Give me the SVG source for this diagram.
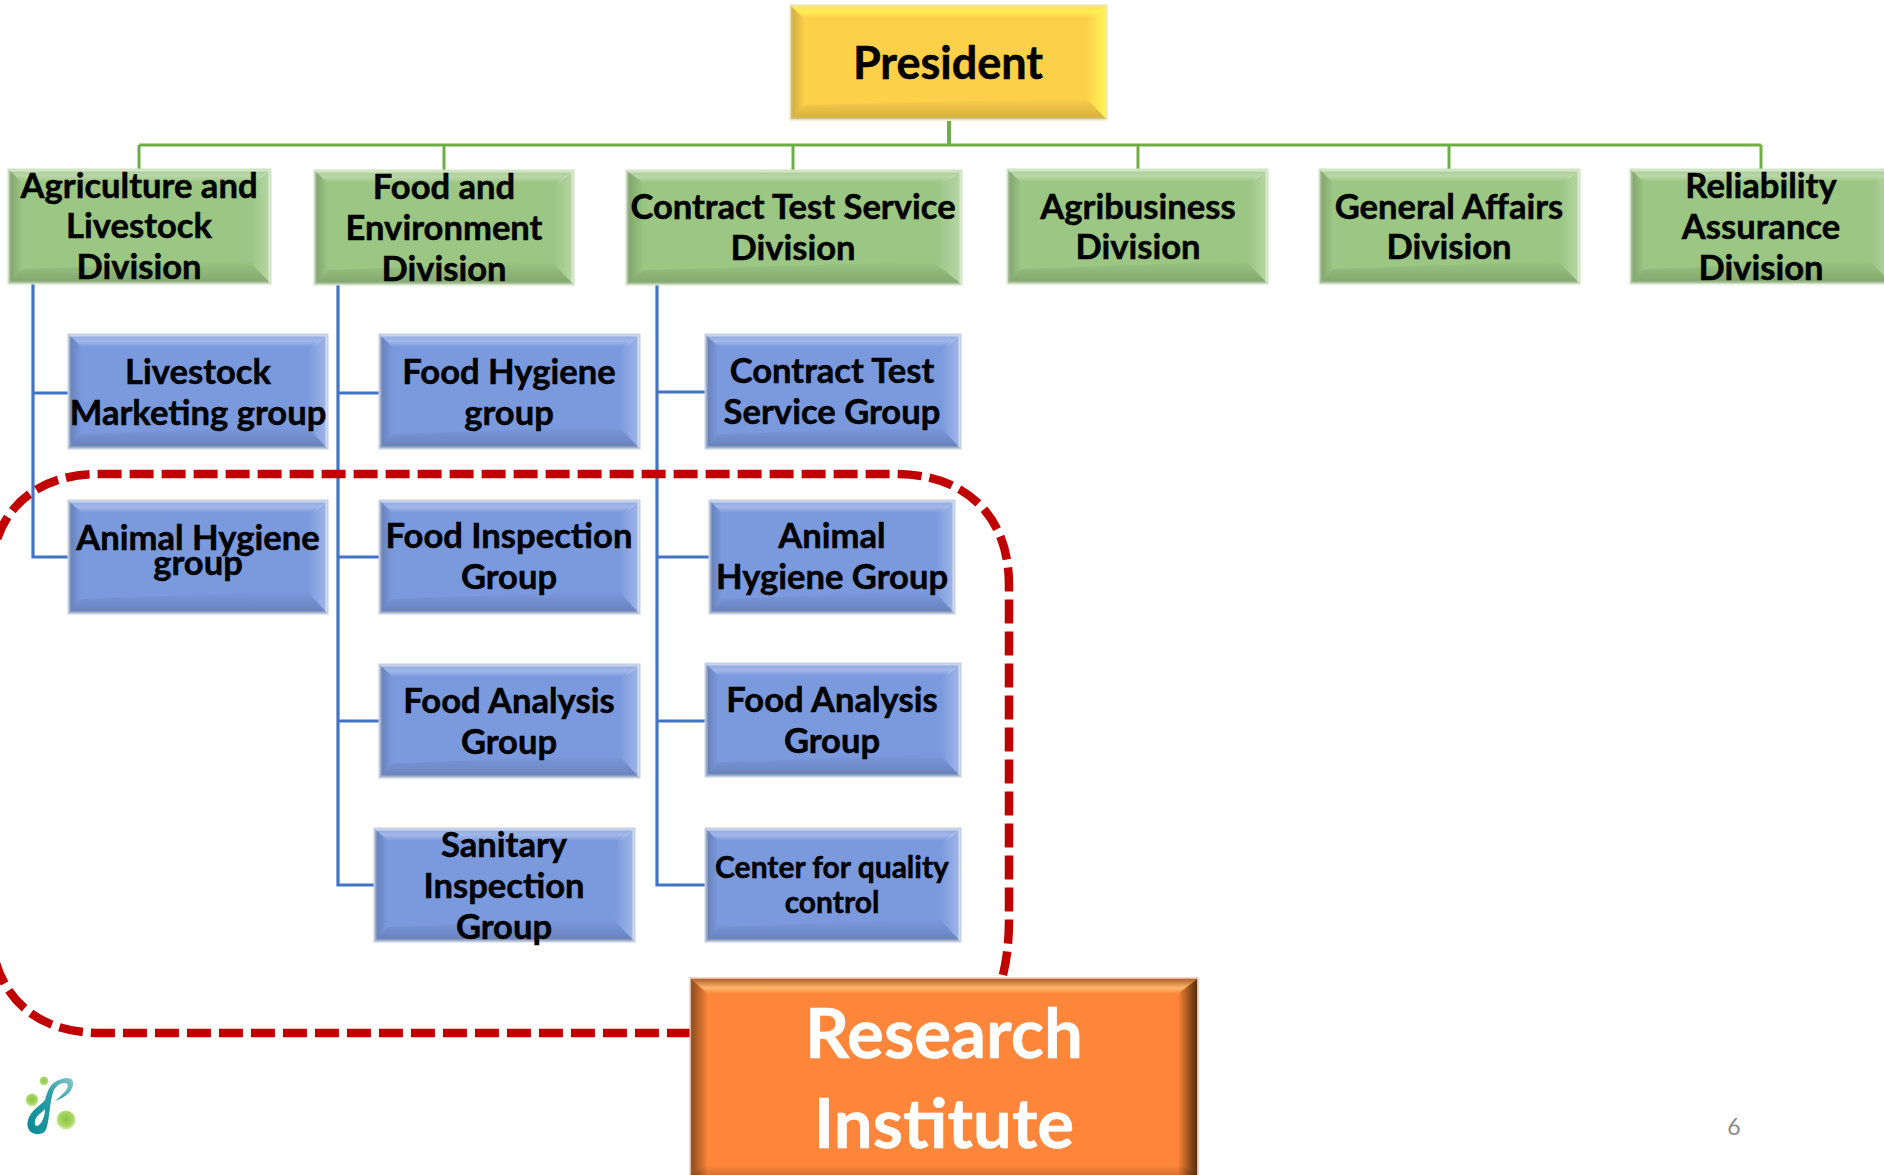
<svg xmlns="http://www.w3.org/2000/svg" xmlns:xlink="http://www.w3.org/1999/xlink" width="1884" height="1175" viewBox="0 0 1884 1175">
<style>
text{font-family:Lato,"Liberation Sans",sans-serif;font-weight:700;text-anchor:middle;fill:#000;stroke:#000;stroke-width:.5px;font-size:34.6px;transform:translateY(1px)}
.g{fill:#9bc683;stroke:#cfe3c2}
.b{fill:#7b9ade;stroke:#c3cfe6}
.y{fill:#fdd04a;stroke:#eee4a8}
.o{fill:#fe863a;stroke:#e8b49a}
.base{stroke-width:3;vector-effect:non-scaling-stroke}
.cg{stroke:#70ad47;fill:none;stroke-width:3}
.cb{stroke:#4472c4;fill:none;stroke-width:3.2}
.dash{fill:none;stroke:#c00000;stroke-width:8.5;stroke-dasharray:24 8}
.big{font-size:69px;fill:#fff;stroke:#fff}
.sm{font-size:30px}
</style>
<defs>
<linearGradient id="wT" x1="0" y1="0" x2="0" y2="1"><stop offset="0" stop-color="#fff" stop-opacity=".12"/><stop offset=".5" stop-color="#fff" stop-opacity=".3"/><stop offset="1" stop-color="#fff" stop-opacity="0"/></linearGradient>
<linearGradient id="kL" x1="0" y1="0" x2="1" y2="0"><stop offset="0" stop-color="#000" stop-opacity=".18"/><stop offset="1" stop-color="#000" stop-opacity="0"/></linearGradient>
<linearGradient id="wR" x1="1" y1="0" x2="0" y2="0"><stop offset="0" stop-color="#fff" stop-opacity=".28"/><stop offset="1" stop-color="#fff" stop-opacity="0"/></linearGradient>
<linearGradient id="kB" x1="0" y1="1" x2="0" y2="0"><stop offset="0" stop-color="#000" stop-opacity=".16"/><stop offset="1" stop-color="#000" stop-opacity="0"/></linearGradient>
<linearGradient id="yT" x1="0" y1="0" x2="0" y2="1"><stop offset="0" stop-color="#ffee55" stop-opacity=".5"/><stop offset=".5" stop-color="#ffee55" stop-opacity="1"/><stop offset="1" stop-color="#ffee55" stop-opacity="0"/></linearGradient>
<linearGradient id="yR" x1="1" y1="0" x2="0" y2="0"><stop offset="0" stop-color="#fff455"/><stop offset="1" stop-color="#fff455" stop-opacity="0"/></linearGradient>
<linearGradient id="dL" x1="0" y1="0" x2="1" y2="0"><stop offset="0" stop-color="#5a3010" stop-opacity=".7"/><stop offset="1" stop-color="#5a3010" stop-opacity="0"/></linearGradient>
<linearGradient id="dR" x1="1" y1="0" x2="0" y2="0"><stop offset="0" stop-color="#4a2808" stop-opacity=".95"/><stop offset="1" stop-color="#4a2808" stop-opacity="0"/></linearGradient>
<linearGradient id="oT" x1="0" y1="0" x2="0" y2="1"><stop offset="0" stop-color="#a85a20" stop-opacity=".9"/><stop offset=".6" stop-color="#ffc27a" stop-opacity=".8"/><stop offset="1" stop-color="#ffc27a" stop-opacity="0"/></linearGradient>
<linearGradient id="rib" x1="0" y1="1" x2="1" y2="0"><stop offset="0" stop-color="#048a98"/><stop offset=".6" stop-color="#2f9ea6"/><stop offset="1" stop-color="#88c8c8"/></linearGradient>
<radialGradient id="ball" cx=".5" cy=".45" r=".55"><stop offset="0" stop-color="#8cc63f"/><stop offset=".7" stop-color="#a8d868"/><stop offset="1" stop-color="#dcf0b4"/></radialGradient>
<symbol id="bevel" viewBox="0 0 260 115" preserveAspectRatio="none">
<polygon points="0,0 260,0 247,12 13,12" fill="url(#wT)"/>
<polygon points="0,0 13,13 13,101 0,115" fill="url(#kL)"/>
<polygon points="260,0 241,14 241,94 260,115" fill="url(#wR)"/>
<polygon points="0,115 13,101 238,92 260,115" fill="url(#kB)"/>
</symbol>
<symbol id="bevelY" viewBox="0 0 315 113" preserveAspectRatio="none">
<polygon points="0,0 315,0 302,12 13,12" fill="url(#yT)"/>
<polygon points="0,0 14,14 14,99 0,113" fill="url(#kL)"/>
<polygon points="315,0 295,14 295,92 315,113" fill="url(#yR)"/>
<polygon points="0,113 14,99 295,92 315,113" fill="url(#kB)"/>
</symbol>
<symbol id="bevelO" viewBox="0 0 474 197" preserveAspectRatio="none">
<polygon points="0,0 474,0 456,15 16,15" fill="url(#oT)"/>
<polygon points="0,0 16,15 16,197 0,197" fill="url(#dL)"/>
<polygon points="474,0 456,15 456,197 474,197" fill="url(#dR)"/>
<polygon points="0,197 14,186 460,186 474,197" fill="url(#kB)"/>
</symbol>
</defs>
<rect width="1884" height="1175" fill="#fff"/>
<g id="connectors">
<path class="cg" d="M139 145H1761M139 145V169M444 145V170M793 145V170M1138 145V169M1449 145V169M1761 145V169"/>
<path class="cg" style="stroke-width:4" d="M949 121V145"/>
<path class="cb" d="M33 284V557H68M33 393H68"/>
<path class="cb" d="M338 285V885H374M338 393H379M338 557H379M338 721H379"/>
<path class="cb" d="M657 285V885H705M657 392H705M657 557H709M657 721H705"/>
</g>
<path id="boundary" class="dash" d="M1003 975Q1009 950 1009 920V585C1009 515 965 474 895 474H100C30 474 -10 515 -10 585V920C-10 990 30 1033 100 1033H690"/>
<g id="president"><rect class="base y" x="791" y="6" width="315" height="113"/><use href="#bevelY" x="791" y="6" width="315" height="113"/><text x="948" y="78" style="font-size:45px">President</text></g>
<g id="agri"><rect class="base g" x="9" y="170" width="261" height="113"/><use href="#bevel" x="9" y="170" width="261" height="113"/><text x="139" y="197">Agriculture and</text><text x="139" y="237">Livestock</text><text x="139" y="278">Division</text></g>
<g id="food-env"><rect class="base g" x="315" y="171" width="258" height="113"/><use href="#bevel" x="315" y="171" width="258" height="113"/><text x="444" y="198">Food and</text><text x="444" y="239">Environment</text><text x="444" y="280">Division</text></g>
<g id="contract"><rect class="base g" x="627" y="171" width="334" height="113"/><use href="#bevel" x="627" y="171" width="334" height="113"/><text x="793" y="218">Contract Test Service</text><text x="793" y="259">Division</text></g>
<g id="agribusiness"><rect class="base g" x="1008" y="170" width="259" height="113"/><use href="#bevel" x="1008" y="170" width="259" height="113"/><text x="1138" y="218">Agribusiness</text><text x="1138" y="258">Division</text></g>
<g id="general"><rect class="base g" x="1320" y="170" width="259" height="113"/><use href="#bevel" x="1320" y="170" width="259" height="113"/><text x="1449" y="218">General Affairs</text><text x="1449" y="258">Division</text></g>
<g id="reliability"><rect class="base g" x="1631" y="170" width="260" height="113"/><use href="#bevel" x="1631" y="170" width="260" height="113"/><text x="1761" y="197">Reliability</text><text x="1761" y="238">Assurance</text><text x="1761" y="279">Division</text></g>
<g id="livestock-mkt"><rect class="base b" x="69" y="335" width="258" height="113"/><use href="#bevel" x="69" y="335" width="258" height="113"/><text x="198" y="383">Livestock</text><text x="198" y="424">Marketing group</text></g>
<g id="food-hygiene"><rect class="base b" x="380" y="335" width="259" height="113"/><use href="#bevel" x="380" y="335" width="259" height="113"/><text x="509" y="383">Food Hygiene</text><text x="509" y="424">group</text></g>
<g id="contract-group"><rect class="base b" x="706" y="335" width="254" height="113"/><use href="#bevel" x="706" y="335" width="254" height="113"/><text x="832" y="382">Contract Test</text><text x="832" y="423">Service Group</text></g>
<g id="animal-hygiene-1"><rect class="base b" x="69" y="501" width="258" height="112"/><use href="#bevel" x="69" y="501" width="258" height="112"/><text x="198" y="549">Animal Hygiene</text><text x="198" y="574">group</text></g>
<g id="food-inspection"><rect class="base b" x="380" y="501" width="259" height="112"/><use href="#bevel" x="380" y="501" width="259" height="112"/><text x="509" y="547">Food Inspection</text><text x="509" y="588">Group</text></g>
<g id="animal-hygiene-2"><rect class="base b" x="710" y="501" width="244" height="112"/><use href="#bevel" x="710" y="501" width="244" height="112"/><text x="832" y="547">Animal</text><text x="832" y="588">Hygiene Group</text></g>
<g id="food-analysis-1"><rect class="base b" x="380" y="665" width="259" height="112"/><use href="#bevel" x="380" y="665" width="259" height="112"/><text x="509" y="712">Food Analysis</text><text x="509" y="753">Group</text></g>
<g id="food-analysis-2"><rect class="base b" x="706" y="664" width="254" height="112"/><use href="#bevel" x="706" y="664" width="254" height="112"/><text x="832" y="711">Food Analysis</text><text x="832" y="752">Group</text></g>
<g id="sanitary"><rect class="base b" x="375" y="829" width="259" height="112"/><use href="#bevel" x="375" y="829" width="259" height="112"/><text x="504" y="856">Sanitary</text><text x="504" y="897">Inspection</text><text x="504" y="938">Group</text></g>
<g id="center"><rect class="base b" x="706" y="829" width="254" height="112"/><use href="#bevel" x="706" y="829" width="254" height="112"/><text class="sm" x="832" y="877" style="font-size:30px">Center for quality</text><text class="sm" x="832" y="912" style="font-size:30px">control</text></g>
<g id="research"><rect class="base o" x="691" y="979" width="506" height="198"/><use href="#bevelO" x="691" y="979" width="506" height="197"/><text class="big" x="944" y="1057" style="font-size:69px">Research</text><text class="big" x="944" y="1147" style="font-size:69px">Institute</text></g>
<g id="logo">
<path d="M43 1133C33 1137 25 1130 28 1120C31 1110 40 1106 45 1100C48 1090 50 1082 62 1079C70 1076 76 1080 72 1088C70 1094 63 1098 55 1101C62 1095 68 1090 68 1085C66 1081 58 1083 54 1090C50 1100 50 1112 48 1122C47 1127 46 1131 43 1133ZM41 1113C36 1116 33 1122 36 1126C40 1127 45 1118 45 1109Z" fill="url(#rib)" fill-rule="evenodd"/>
<circle cx="44" cy="1081" r="4.5" fill="url(#ball)"/>
<circle cx="32" cy="1100" r="6.5" fill="url(#ball)"/>
<circle cx="66" cy="1120" r="9.5" fill="url(#ball)"/>
</g>
<text id="page" x="1734" y="1134" style="font-family:Lato,'Liberation Sans',sans-serif;font-weight:400;font-size:23px;fill:#8b8b8b;stroke:none">6</text>
</svg>
